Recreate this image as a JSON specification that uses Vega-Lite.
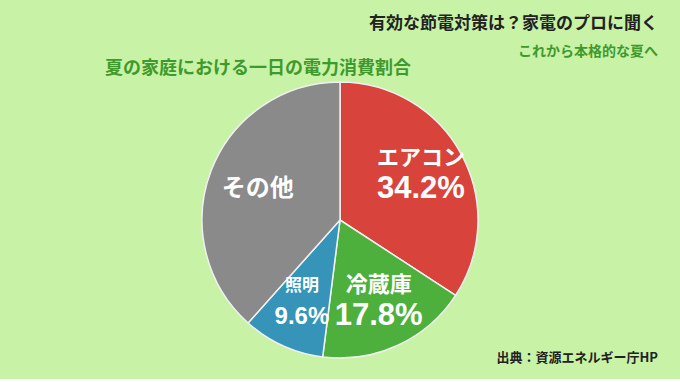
{
  "$schema": "https://vega.github.io/schema/vega-lite/v6.json",
  "background": "#c8f2a6",
  "padding": {"left": 0, "right": 0, "top": 14, "bottom": 14},
  "title": {
    "text": "有効な節電対策は？家電のプロに聞く",
    "subtitle": "これから本格的な夏へ",
    "anchor": "end",
    "dx": -22,
    "font": "Noto Sans CJK JP",
    "fontSize": 17,
    "fontWeight": "bold",
    "color": "#222222",
    "subtitleFont": "Noto Sans CJK JP",
    "subtitleFontSize": 14,
    "subtitleFontWeight": "bold",
    "subtitleColor": "#3f9a2e",
    "subtitlePadding": 12,
    "offset": 0
  },
  "datasets": {
    "share": [
      {"name": "エアコン", "value": 34.2, "rank": 1},
      {"name": "冷蔵庫", "value": 17.8, "rank": 2},
      {"name": "照明", "value": 9.6, "rank": 3},
      {"name": "その他", "value": 38.4, "rank": 4}
    ]
  },
  "vconcat": [
    {
      "width": 680,
      "height": 1,
      "title": {
        "text": "夏の家庭における一日の電力消費割合",
        "anchor": "start",
        "dx": 105,
        "font": "Noto Sans CJK JP",
        "fontSize": 18,
        "fontWeight": "bold",
        "color": "#3f9a2e",
        "offset": -10
      },
      "data": {"name": "share"},
      "mark": {"type": "text", "opacity": 0},
      "encoding": {"text": {"value": ""}}
    },
    {
      "width": 680,
      "height": 276,
      "title": {
        "text": "出典：資源エネルギー庁HP",
        "orient": "bottom",
        "anchor": "end",
        "dx": -22,
        "offset": -9,
        "font": "Noto Sans CJK JP",
        "fontSize": 13,
        "fontWeight": "bold",
        "color": "#222222"
      },
      "data": {"name": "share"},
      "transform": [
        {"calculate": "datum.name === 'その他' ? '' : format(datum.value, '.1f') + '%'", "as": "pct"}
      ],
      "encoding": {
        "theta": {"field": "value", "type": "quantitative", "stack": true},
        "order": {"field": "rank", "type": "quantitative"}
      },
      "layer": [
        {
          "mark": {"type": "arc", "stroke": "#f0f0f0", "strokeWidth": 1.5},
          "encoding": {
            "color": {
              "field": "name",
              "type": "nominal",
              "scale": {
                "domain": ["エアコン", "冷蔵庫", "照明", "その他"],
                "range": ["#d8433b", "#4db03c", "#3794b9", "#8a8a8a"]
              },
              "legend": null
            }
          }
        },
        {
          "mark": {"type": "text", "radius": 92, "dy": -18, "font": "Noto Sans CJK JP", "fontWeight": "bold", "fill": "white"},
          "encoding": {
            "text": {"condition": {"test": "datum.name === 'その他'", "value": ""}, "field": "name"},
            "size": {"condition": {"test": "datum.name === '照明'", "value": 17}, "value": 22}
          }
        },
        {
          "mark": {"type": "text", "radius": 92, "dy": 13, "font": "Liberation Sans", "fontWeight": "bold", "fill": "white"},
          "encoding": {
            "text": {"field": "pct"},
            "size": {"condition": {"test": "datum.name === '照明'", "value": 24}, "value": 31}
          }
        },
        {
          "mark": {"type": "text", "radius": 88, "font": "Noto Sans CJK JP", "fontWeight": "bold", "fill": "white", "fontSize": 24},
          "encoding": {
            "text": {"condition": {"test": "datum.name !== 'その他'", "value": ""}, "field": "name"}
          }
        }
      ]
    }
  ],
  "config": {"view": {"stroke": null}, "concat": {"spacing": 0}}
}
